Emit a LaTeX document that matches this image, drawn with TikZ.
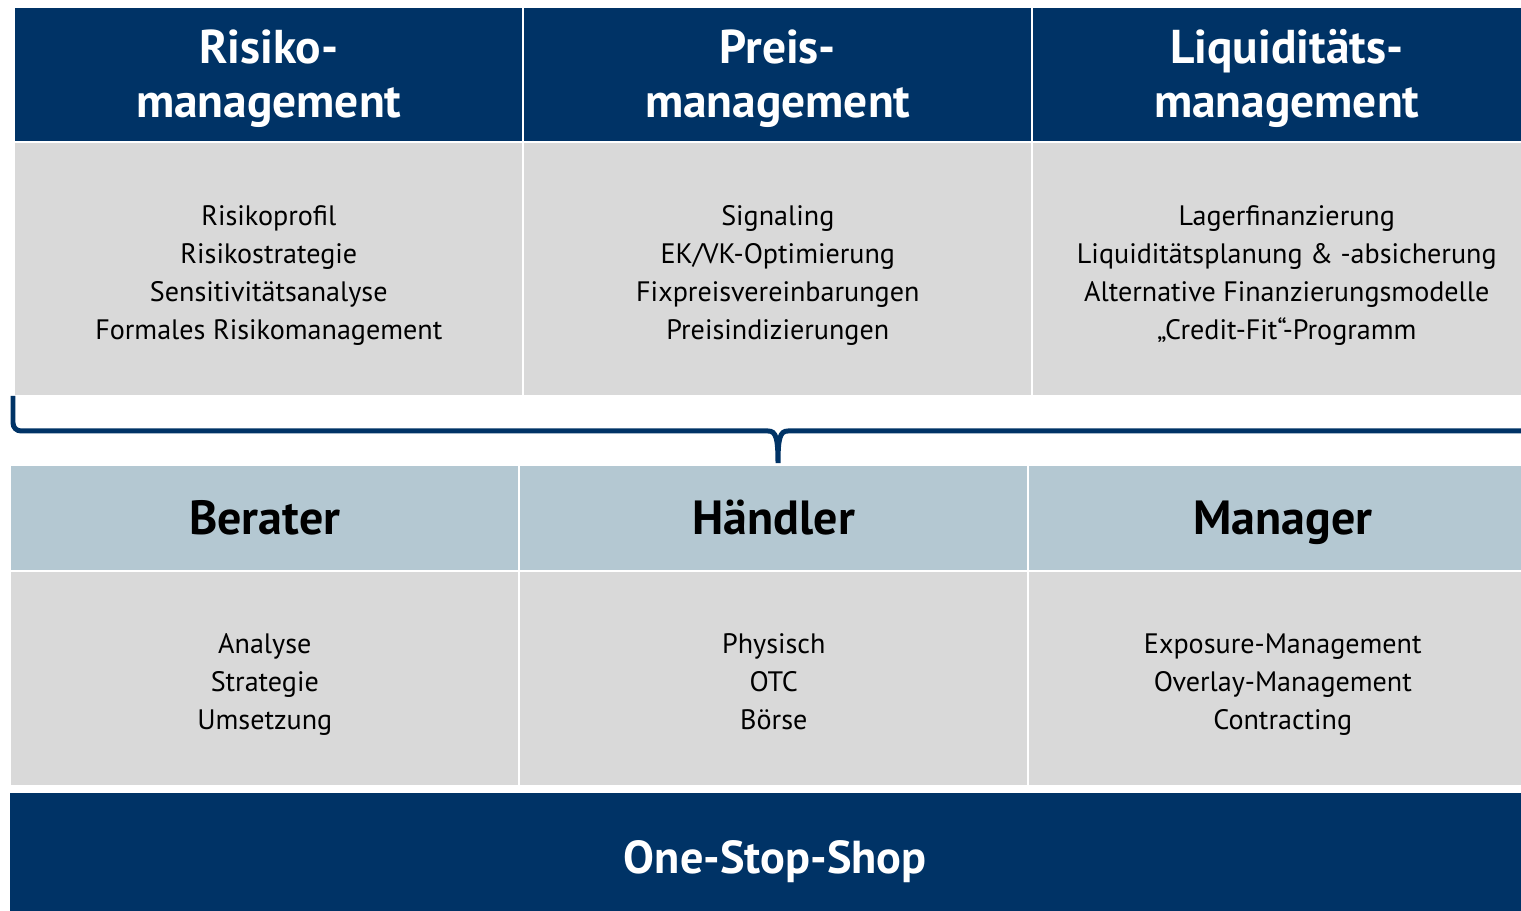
\documentclass[tikz,border=0pt]{standalone}
\usepackage{fontspec}
\setmainfont{PT Sans}
\usetikzlibrary{positioning}
\definecolor{navy}{RGB}{0,51,102}
\definecolor{steel}{RGB}{180,200,210}
\definecolor{lgray}{RGB}{217,217,217}
\newcommand{\tstrut}{\rule{0pt}{\dimexpr0.7\baselineskip+3pt\relax}}
\newcommand{\bstrut}{\rule[-\dimexpr0.3\baselineskip-3pt\relax]{0pt}{\dimexpr0.3\baselineskip-3pt\relax}}

\begin{document}
\begin{tikzpicture}[x=0.02cm,y=-0.02cm,
    cell/.style={anchor=north west,inner sep=0pt,align=center,minimum width=10.14cm},
    tophead/.style={cell,fill=navy,text=white,minimum height=2.66cm,
      font=\fontsize{27}{30.7}\selectfont\bfseries},
    topbody/.style={cell,fill=lgray,minimum height=5.04cm,
      font=\fontsize{16}{21.6}\selectfont},
    midhead/.style={cell,fill=steel,minimum height=2.08cm,
      font=\fontsize{27.3}{32}\selectfont\bfseries},
    midbody/.style={cell,fill=lgray,minimum height=4.26cm,
      font=\fontsize{16}{21.6}\selectfont},
    brace/.style={draw=navy,line width=0.1cm}]
  \useasboundingbox (0,0) rectangle (1521,911);
  \clip (0,0) rectangle (1521,911);
  % obere Reihe
  \node[tophead] (risk) at (15,8) {\tstrut Risiko-\\management\bstrut};
  \node[tophead] (preis) at (524,8) {\tstrut Preis-\\management\bstrut};
  \node[tophead] (liq) at (1033,8) {\tstrut Liquiditäts-\\management\bstrut};
  \node[topbody] (riskb) at (15,143) {\tstrut Risikoprofil\\Risikostrategie\\Sensitivitätsanalyse\\Formales Risikomanagement\bstrut};
  \node[topbody] (preisb) at (524,143) {\tstrut Signaling\\EK/VK-Optimierung\\Fixpreisvereinbarungen\\Preisindizierungen\bstrut};
  \node[topbody] (liqb) at (1033,143) {\tstrut Lagerfinanzierung\\Liquiditätsplanung \& -absicherung\\Alternative Finanzierungsmodelle\\„Credit-Fit“-Programm\bstrut};
  % Klammer
  \draw[brace] (13,396) [rounded corners=0.16cm]-- (13,431) [sharp corners]-- (768,431)
    .. controls (776,431) and (778,438) .. (778,463)
    .. controls (778,438) and (780,431) .. (788,431) -- (1540,431);
  % mittlere Reihe
  \node[midhead] (berater) at (11,466) {\tstrut Berater\bstrut};
  \node[midhead] (haendler) at (520,466) {\tstrut Händler\bstrut};
  \node[midhead] (manager) at (1029,466) {\tstrut Manager\bstrut};
  \node[midbody] (beraterb) at (11,572) {\tstrut Analyse\\Strategie\\Umsetzung\bstrut};
  \node[midbody] (haendlerb) at (520,572) {\tstrut Physisch\\OTC\\Börse\bstrut};
  \node[midbody] (managerb) at (1029,572) {\tstrut Exposure-Management\\Overlay-Management\\Contracting\bstrut};
  % unten
  \node[cell,fill=navy,text=white,minimum width=30.6cm,minimum height=2.56cm,
    font=\fontsize{26.3}{30}\selectfont\bfseries] (shop) at (10,793) {\tstrut One-Stop-Shop\bstrut};
\end{tikzpicture}
\end{document}
